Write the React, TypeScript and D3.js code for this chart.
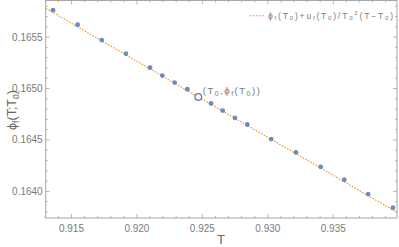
import { useEffect, useRef } from "react";
import * as d3 from "d3";

// sampled points (T, phi_f)
const tValues = [
  0.91359, 0.91547, 0.91731, 0.91916, 0.921, 0.92194, 0.92288, 0.92385,
  0.92566, 0.92655, 0.92749, 0.92843, 0.93026, 0.93215, 0.93404, 0.93584,
  0.93767, 0.93956,
];
const phiValues = [
  0.165762, 0.16562, 0.165471, 0.165339, 0.165203, 0.165126, 0.165058,
  0.164993, 0.164855, 0.164786, 0.164714, 0.16465, 0.164508, 0.164379,
  0.164239, 0.164113, 0.163974, 0.163841,
];
// reference point and tangent slope u_f(T0)/T0^2
const T0 = 0.92469;
const PHI0 = 0.164918;
const SLOPE = -0.07397;

const xTicks = [0.915, 0.92, 0.925, 0.93, 0.935];
const yTicks = [0.164, 0.1645, 0.165, 0.1655];
const xDomain = [0.91303, 0.93987];
const yDomain = [0.163741, 0.165856];

const BLUE = "#5E81B5";
const ORANGE = "#E19C24";
const FRAME = "#a6a6a6";
const LABEL = "#7a7a7a";

export default function App() {
  const ref = useRef<SVGSVGElement>(null);

  useEffect(() => {
    const svg = d3.select(ref.current!);
    svg.selectAll("*").remove();

    const W = 399, H = 247;
    const m = { top: 0.5, right: 2, bottom: 29, left: 45.7 };
    const x = d3.scaleLinear().domain(xDomain).range([m.left, W - m.right]);
    const y = d3.scaleLinear().domain(yDomain).range([H - m.bottom, m.top]);
    const [x0, x1] = x.range();
    const [y0, y1] = y.range();
    const font = "'Liberation Sans', Arial, sans-serif";

    const clip = svg.append("defs").append("clipPath").attr("id", "plot");
    clip.append("rect").attr("x", x0).attr("y", y1).attr("width", x1 - x0).attr("height", y0 - y1);

    // frame
    svg.append("rect")
      .attr("x", x0).attr("y", y1).attr("width", x1 - x0).attr("height", y0 - y1)
      .attr("fill", "none").attr("stroke", FRAME).attr("stroke-width", 1);

    const xMinor = d3.range(0.913, 0.9399, 0.001).map(v => +v.toFixed(3));
    const yMinor = d3.range(0.1638, 0.16586, 0.0001).map(v => +v.toFixed(4));
    const isMajorX = (v: number) => xTicks.some(t => Math.abs(t - v) < 1e-6);
    const isMajorY = (v: number) => yTicks.some(t => Math.abs(t - v) < 1e-7);

    const ticks = svg.append("g").attr("stroke", FRAME).attr("stroke-width", 0.8);
    xMinor.forEach(v => {
      const len = isMajorX(v) ? 4 : 2;
      ticks.append("line").attr("x1", x(v)).attr("x2", x(v)).attr("y1", y0).attr("y2", y0 - len);
      ticks.append("line").attr("x1", x(v)).attr("x2", x(v)).attr("y1", y1).attr("y2", y1 + len);
    });
    yMinor.forEach(v => {
      if (y(v) < y1 || y(v) > y0) return;
      const len = isMajorY(v) ? 4 : 2;
      ticks.append("line").attr("y1", y(v)).attr("y2", y(v)).attr("x1", x0).attr("x2", x0 + len);
      ticks.append("line").attr("y1", y(v)).attr("y2", y(v)).attr("x1", x1).attr("x2", x1 - len);
    });

    svg.append("g").selectAll("text").data(xTicks).enter().append("text")
      .attr("x", d => x(d)).attr("y", y0 + 14)
      .attr("text-anchor", "middle").attr("font-family", font).attr("font-size", 10)
      .attr("fill", LABEL).text(d => d.toFixed(3));

    svg.append("g").selectAll("text").data(yTicks).enter().append("text")
      .attr("x", x0 - 3).attr("y", d => y(d) + 3.5)
      .attr("text-anchor", "end").attr("font-family", font).attr("font-size", 10)
      .attr("fill", LABEL).text(d => d.toFixed(4));

    // axis labels
    svg.append("text").attr("x", 221).attr("y", 244)
      .attr("text-anchor", "middle").attr("font-family", font).attr("font-size", 13)
      .attr("fill", "#666").text("T");

    const yl = svg.append("text")
      .attr("transform", "translate(16,110) rotate(-90)")
      .attr("text-anchor", "middle").attr("font-family", font).attr("font-size", 12.5)
      .attr("fill", "#666");
    yl.append("tspan").text("ϕ");
    yl.append("tspan").attr("font-size", 8.5).attr("dy", 3).text("f");
    yl.append("tspan").attr("dy", -3).text("(T;T");
    yl.append("tspan").attr("font-size", 8.5).attr("dy", 3).text("0");
    yl.append("tspan").attr("dy", -3).text(")");

    const plot = svg.append("g").attr("clip-path", "url(#plot)");

    // tangent line
    const line = d3.line<number>().x(t => x(t)).y(t => y(PHI0 + SLOPE * (t - T0)));
    plot.append("path").datum(xDomain)
      .attr("d", line).attr("fill", "none")
      .attr("stroke", ORANGE).attr("stroke-width", 1.1).attr("stroke-dasharray", "1.6,1.4");

    // points
    plot.selectAll("circle.pt").data(tValues).enter().append("circle")
      .attr("class", "pt")
      .attr("cx", d => x(d)).attr("cy", (_, i) => y(phiValues[i]))
      .attr("r", 2.4).attr("fill", BLUE).attr("opacity", 0.9);

    plot.append("circle")
      .attr("cx", x(T0)).attr("cy", y(PHI0)).attr("r", 3.3)
      .attr("fill", "white").attr("stroke", BLUE).attr("stroke-width", 1.4);

    // annotation
    const ann = svg.append("text")
      .attr("x", x(T0) + 4.5).attr("y", y(PHI0) - 3)
      .attr("font-family", font).attr("font-size", 9.5).attr("fill", LABEL)
      .attr("textLength", 57).attr("lengthAdjust", "spacing");
    ann.append("tspan").text("(T");
    ann.append("tspan").attr("font-size", 7).attr("dy", 2).text("0");
    ann.append("tspan").attr("dy", -2).text(",ϕ");
    ann.append("tspan").attr("font-size", 7).attr("dy", 2).text("f");
    ann.append("tspan").attr("dy", -2).text("(T");
    ann.append("tspan").attr("font-size", 7).attr("dy", 2).text("0");
    ann.append("tspan").attr("dy", -2).text("))");

    // legend
    svg.append("line").attr("x1", 250).attr("x2", 264).attr("y1", 15.7).attr("y2", 15.7)
      .attr("stroke", ORANGE).attr("stroke-width", 1.1).attr("stroke-dasharray", "1.6,1.4");
    const lg = svg.append("text")
      .attr("x", 268).attr("y", 18.5)
      .attr("font-family", font).attr("font-size", 8.5).attr("fill", LABEL)
      .attr("textLength", 125).attr("lengthAdjust", "spacing");
    const sub = (s: string) => lg.append("tspan").attr("font-size", 6).attr("dy", 1.8).text(s);
    const norm = (s: string) => lg.append("tspan").attr("dy", -1.8).text(s);
    lg.append("tspan").text("ϕ");
    sub("f"); norm("(T"); sub("0"); norm(")+u"); sub("f"); norm("(T"); sub("0"); norm(")/T"); sub("0");
    lg.append("tspan").attr("font-size", 6).attr("dy", -5.5).text("2");
    lg.append("tspan").attr("dy", 3.7).text("(T−T");
    sub("0"); norm(")");
  }, []);

  return (
    <svg
      ref={ref}
      width={399}
      height={247}
      style={{ position: "absolute", left: 0, top: 0, background: "white" }}
    />
  );
}
